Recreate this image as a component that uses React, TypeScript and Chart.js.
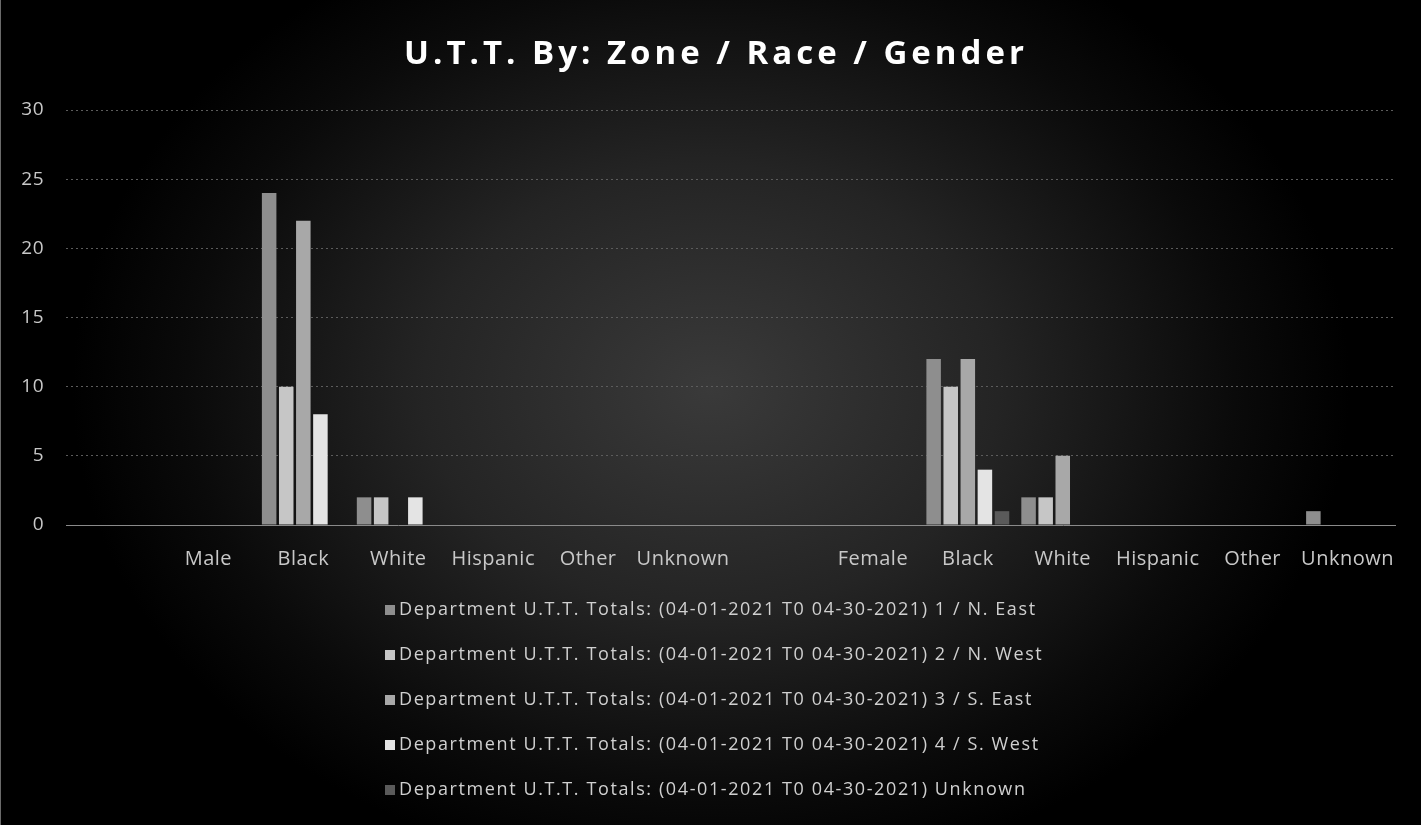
import { useEffect, useRef } from 'react';
import { Chart, registerables } from 'chart.js';

Chart.register(...registerables);

const TITLE = 'U.T.T. By: Zone / Race / Gender';

const CATEGORIES = ['', 'Male', 'Black', 'White', 'Hispanic', 'Other', 'Unknown', '', 'Female', 'Black', 'White', 'Hispanic', 'Other', 'Unknown'];

const SERIES_NAMES = [
  'Department U.T.T. Totals: (04-01-2021 T0 04-30-2021) 1 / N. East',
  'Department U.T.T. Totals: (04-01-2021 T0 04-30-2021) 2 / N. West',
  'Department U.T.T. Totals: (04-01-2021 T0 04-30-2021) 3 / S. East',
  'Department U.T.T. Totals: (04-01-2021 T0 04-30-2021) 4 / S. West',
  'Department U.T.T. Totals: (04-01-2021 T0 04-30-2021) Unknown',
];

const NORTH_EAST = [0, 0, 24, 2, 0, 0, 0, 0, 0, 12, 2, 0, 0, 1];
const NORTH_WEST = [0, 0, 10, 2, 0, 0, 0, 0, 0, 10, 2, 0, 0, 0];
const SOUTH_EAST = [0, 0, 22, 0, 0, 0, 0, 0, 0, 12, 5, 0, 0, 0];
const SOUTH_WEST = [0, 0, 8, 2, 0, 0, 0, 0, 0, 4, 0, 0, 0, 0];
const UNKNOWN_ZONE = [0, 0, 0, 0, 0, 0, 0, 0, 0, 1, 0, 0, 0, 0];

const SERIES_VALUES = [NORTH_EAST, NORTH_WEST, SOUTH_EAST, SOUTH_WEST, UNKNOWN_ZONE];
const SERIES_COLORS = ['#8e8e8e', '#c6c6c6', '#a8a8a8', '#e4e4e4', '#5a5a5a'];

const Y_MIN = 0;
const Y_MAX = 30;
const Y_STEP = 5;

const FONT = '"Open Sans", "DejaVu Sans", sans-serif';

const spacingPlugin = {
  id: 'tickSpacing',
  beforeDraw(chart: any) {
    (chart.ctx as any).letterSpacing = '0.5px';
  },
};

const titlePlugin = {
  id: 'customTitle',
  afterDraw(chart: any) {
    const { ctx } = chart;
    ctx.save();
    ctx.font = `bold 33px ${FONT}`;
    (ctx as any).letterSpacing = '4px';
    ctx.fillStyle = '#ffffff';
    ctx.textAlign = 'center';
    ctx.textBaseline = 'middle';
    ctx.fillText(TITLE, 715, 55);
    ctx.restore();
  },
};

const legendPlugin = {
  id: 'customLegend',
  afterDraw(chart: any) {
    const { ctx } = chart;
    ctx.save();
    ctx.font = `18px ${FONT}`;
    (ctx as any).letterSpacing = '1.6px';
    ctx.textBaseline = 'middle';
    ctx.textAlign = 'left';
    chart.data.datasets.forEach((ds: any, i: number) => {
      const y = 610 + i * 45;
      ctx.fillStyle = ds.backgroundColor;
      ctx.fillRect(384, y - 5, 10, 10);
      ctx.fillStyle = '#d0d0d0';
      ctx.fillText(ds.label, 398, y);
    });
    ctx.restore();
  },
};

export default function App() {
  const ref = useRef<HTMLCanvasElement>(null);

  useEffect(() => {
    const chart = new Chart(ref.current!, {
      type: 'bar',
      data: {
        labels: CATEGORIES,
        datasets: SERIES_VALUES.map((values, i) => ({
          label: SERIES_NAMES[i],
          data: values,
          backgroundColor: SERIES_COLORS[i],
          borderWidth: 0,
          categoryPercentage: 0.9,
          barPercentage: 0.85,
        })),
      },
      options: {
        animation: false,
        responsive: false,
        devicePixelRatio: 1,
        layout: { padding: { left: 0, right: 26, top: 110, bottom: 0 } },
        plugins: {
          legend: { display: false },
          title: { display: false },
          tooltip: { enabled: false },
        },
        scales: {
          x: {
            grid: { display: false, drawTicks: false },
            border: { display: true, color: '#8a8a8a', width: 1 },
            ticks: {
              color: '#c8c8c8',
              font: { family: FONT, size: 20 },
              padding: 22,
              autoSkip: false,
              maxRotation: 0,
            },
            afterFit(scale: any) {
              scale.height = 300;
            },
          },
          y: {
            min: Y_MIN,
            max: Y_MAX,
            grid: { color: '#5c5c5c', lineWidth: 1, drawTicks: false },
            border: { display: false, dash: [2, 3] },
            ticks: {
              stepSize: Y_STEP,
              color: '#c8c8c8',
              font: { family: FONT, size: 19 },
              padding: 22,
            },
            afterFit(scale: any) {
              scale.width = 65;
            },
          },
        },
      },
      plugins: [spacingPlugin, titlePlugin, legendPlugin],
    });
    return () => chart.destroy();
  }, []);

  return (
    <div
      style={{
        position: 'fixed',
        left: 0,
        top: 0,
        width: 1421,
        height: 825,
        background: 'radial-gradient(ellipse 45% 60% at 50% 47%, #3a3a3a 0%, #242424 45%, #0a0a0a 82%, #000 100%)',
        borderLeft: '1px solid #6a6a6a',
        boxSizing: 'border-box',
      }}
    >
      <canvas ref={ref} width={1420} height={825} style={{ display: 'block' }} />
    </div>
  );
}
